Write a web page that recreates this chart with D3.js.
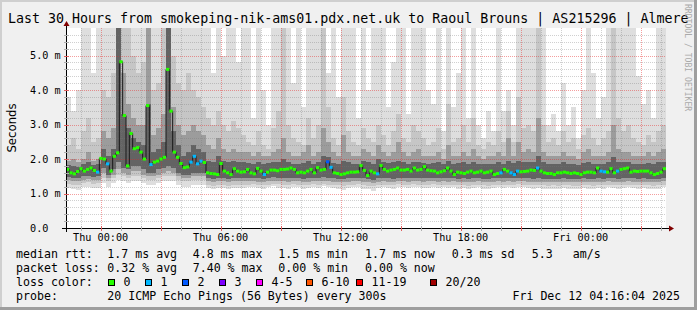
<!DOCTYPE html>
<html lang="en">
<head>
<meta charset="UTF-8">
<style>
    html, body { margin:0; padding:0; overflow:hidden; background:#f0f0f0; }
    svg { display:block; }
    text { font-family:"DejaVu Sans Mono", monospace; fill:#000; }
</style>
<script src="https://d3js.org/d3.v7.min.js"></script>
</head>
<body>
<svg width="697" height="310"></svg>
<script>
// ---- data ----
var titleText = "Last 30 Hours from smokeping-nik-ams01.pdx.net.uk to Raoul Brouns | AS215296 | Almere";
var startTime = new Date(2025, 11, 10, 22, 16, 4);
var endTime = new Date(2025, 11, 12, 4, 16, 4);

var yTickValues = [0, 1, 2, 3, 4, 5];
var yTickLabels = ["0.0", "1.0 m", "2.0 m", "3.0 m", "4.0 m", "5.0 m"];
var xTickTimes = [new Date(2025, 11, 11, 0), new Date(2025, 11, 11, 6), new Date(2025, 11, 11, 12),
                  new Date(2025, 11, 11, 18), new Date(2025, 11, 12, 0)];
var xTickLabels = ["Thu 00:00", "Thu 06:00", "Thu 12:00", "Thu 18:00", "Fri 00:00"];

// median rtt (ms), one value per 10 minutes
var medianRtt = [
    1.70,1.60,1.57,1.64,1.72,1.65,1.70,1.74,1.67,1.62,
    2.02,2.00,1.86,1.65,2.08,2.18,4.82,3.26,1.80,2.74,
    2.30,2.33,2.20,2.00,3.55,1.84,1.91,1.94,2.00,2.05,
    4.60,3.39,2.20,2.05,1.87,1.75,1.77,1.91,2.08,1.86,
    1.94,1.90,1.60,1.58,1.57,1.55,1.87,1.65,1.60,1.55,
    1.72,1.65,1.62,1.63,1.70,1.60,1.57,1.73,1.65,1.55,
    1.62,1.68,1.68,1.66,1.70,1.70,1.71,1.74,1.70,1.60,
    1.62,1.60,1.65,1.70,1.60,1.75,1.68,1.70,1.92,1.76,
    1.60,1.58,1.55,1.57,1.60,1.62,1.62,1.63,1.81,1.67,
    1.52,1.65,1.60,1.57,1.81,1.70,1.65,1.68,1.70,1.74,
    1.68,1.68,1.70,1.65,1.74,1.68,1.70,1.78,1.68,1.66,
    1.65,1.60,1.63,1.66,1.74,1.65,1.55,1.62,1.60,1.58,
    1.62,1.65,1.60,1.62,1.65,1.60,1.62,1.65,1.55,1.58,
    1.60,1.70,1.65,1.60,1.55,1.65,1.63,1.64,1.65,1.68,
    1.67,1.74,1.65,1.60,1.58,1.58,1.55,1.60,1.60,1.62,
    1.60,1.58,1.60,1.58,1.55,1.60,1.62,1.62,1.60,1.74,
    1.65,1.63,1.62,1.72,1.60,1.65,1.70,1.72,1.74,1.62,
    1.65,1.64,1.65,1.65,1.65,1.60,1.55,1.58,1.62,1.72
];
// lost pings (of 20) per median value
var medianLoss = [
    0,0,0,0,0,0,0,0,0,1, 0,0,1,0,0,0,0,0,0,0, 0,0,0,0,0,1,0,0,0,0,
    0,0,0,0,0,0,0,1,1,1, 1,0,0,0,0,0,0,0,0,0, 0,0,0,0,0,0,0,0,0,1,
    0,0,0,0,0,0,0,0,0,0, 0,0,0,0,0,0,0,0,2,1, 0,0,0,0,0,0,0,0,0,0,
    0,0,0,1,0,0,0,0,0,0, 0,0,0,0,0,0,0,0,0,0, 0,0,0,0,0,0,0,0,0,0,
    0,0,0,0,0,0,0,0,0,0, 1,0,0,1,1,1,0,0,0,0, 0,1,0,0,0,0,0,0,0,0,
    0,0,0,0,0,0,0,0,0,0, 1,1,0,0,0,1,0,0,0,0, 0,0,0,0,0,0,0,0,0,0
];

// smoke envelopes (ms), one value per 15 minutes; 1 = outer, 4 = inner
var smokeHi1 = [
    3.8,3.4,4.0,5.9,5.9,4.5,5.9,5.9,5.9,5.9,
    5.9,5.9,5.9,5.9,5.9,5.9,5.9,5.9,5.9,5.9,
    5.9,5.9,5.9,5.9,5.9,5.9,5.9,5.9,5.9,4.5,
    5.9,5.0,5.9,5.9,4.8,5.9,5.9,3.2,5.9,4.0,
    3.0,5.9,5.9,5.9,5.9,4.2,5.9,3.5,5.9,5.9,
    5.9,5.9,4.5,5.9,3.8,5.9,5.9,5.9,3.2,5.9,
    4.0,5.9,5.9,5.9,3.5,4.8,5.9,5.9,3.3,5.9,
    5.9,5.9,4.0,3.6,5.9,2.8,5.9,3.5,4.5,5.9,
    3.2,5.9,3.0,2.6,3.4,2.8,5.9,3.4,4.0,3.0,
    5.9,5.9,5.9,5.9,5.9,5.9,3.0,3.3,2.8,4.2,
    3.0,3.5,2.6,4.0,5.9,4.5,3.2,3.8,5.9,5.9,
    5.9,5.9,5.9,5.9,4.4,3.6,4.0,3.2,5.9,5.9
];
var smokeHi2 = [
    2.4,2.6,2.3,2.8,3.2,2.5,2.6,4.0,3.8,4.5,
    5.9,5.9,5.9,5.0,4.5,4.8,5.9,4.0,4.2,5.9,
    5.9,5.0,4.2,4.0,4.5,4.0,3.8,3.5,3.2,3.0,
    3.4,3.0,2.8,3.1,2.9,2.7,2.5,2.4,2.8,2.4,
    2.3,2.9,3.4,5.9,3.0,2.6,2.5,2.4,3.2,2.6,
    3.0,5.9,3.5,2.6,2.4,3.8,2.8,2.5,2.4,2.9,
    2.6,2.5,3.0,2.7,2.4,2.8,3.3,2.6,2.5,3.0,
    2.8,2.6,2.4,2.5,2.9,2.3,3.6,2.5,2.6,3.0,
    2.5,3.2,2.4,2.3,2.5,2.4,2.8,2.5,3.4,2.5,
    3.8,2.9,3.0,2.8,5.9,3.0,2.5,2.6,2.4,2.8,
    2.5,2.6,2.3,2.7,2.9,2.6,2.4,2.6,2.8,5.9,
    3.2,2.8,3.0,2.6,2.5,2.4,2.7,2.5,2.8,3.0
];
var smokeHi3 = [
    1.95,2.0,1.9,2.0,2.2,1.95,2.0,2.8,2.6,2.9,
    5.9,4.5,3.6,3.2,3.0,3.0,5.9,2.7,2.9,3.3,
    5.9,3.5,3.0,2.7,2.8,3.0,2.8,2.7,2.4,2.3,
    2.6,2.3,2.2,2.3,2.2,2.2,2.2,2.1,2.2,2.1,
    2.1,2.2,2.3,2.6,2.2,2.1,2.1,2.2,2.4,2.1,
    2.2,2.9,2.5,2.2,2.1,2.7,2.2,2.1,2.1,2.3,
    2.2,2.1,2.4,2.2,2.1,2.2,2.5,2.2,2.1,2.2,
    2.3,2.1,2.1,2.1,2.2,2.0,2.4,2.1,2.1,2.2,
    2.1,2.3,2.1,2.0,2.1,2.1,2.2,2.1,2.6,2.1,
    2.5,2.2,2.3,2.2,3.2,2.2,2.1,2.1,2.1,2.2,
    2.1,2.1,2.0,2.2,2.3,2.1,2.1,2.1,2.2,3.0,
    2.3,2.2,2.2,2.1,2.1,2.1,2.2,2.1,2.2,2.3
];
var smokeHi4 = [
    1.82,1.80,1.78,1.85,1.90,1.82,1.85,2.30,2.10,2.30,
    5.90,3.30,2.90,2.60,2.50,2.40,3.60,2.20,2.30,2.50,
    5.90,2.80,2.40,2.10,2.20,2.40,2.30,2.20,1.95,1.90,
    2.10,1.95,1.90,1.95,1.90,1.90,1.88,1.85,1.90,1.87,
    1.88,1.90,1.92,2.00,1.90,1.87,1.85,1.88,1.95,1.87,
    1.90,2.10,2.05,1.88,1.85,1.95,1.90,1.85,1.87,1.95,
    1.90,1.86,2.00,1.90,1.88,1.90,1.95,1.90,1.87,1.90,
    1.92,1.88,1.86,1.88,1.90,1.85,1.95,1.86,1.88,1.90,
    1.86,1.92,1.86,1.85,1.87,1.86,1.90,1.87,1.95,1.88,
    1.95,1.90,1.92,1.90,2.10,1.90,1.86,1.87,1.86,1.90,
    1.86,1.87,1.84,1.88,1.92,1.87,1.86,1.87,1.90,2.05,
    1.92,1.90,1.90,1.87,1.86,1.86,1.88,1.86,1.90,1.92
];
var smokeLo4 = [
    1.48,1.45,1.45,1.50,1.52,1.48,1.50,1.75,1.55,1.70,
    1.90,1.75,1.70,1.80,1.80,1.70,1.60,1.60,1.70,1.75,
    1.80,1.75,1.60,1.55,1.55,1.60,1.60,1.60,1.45,1.42,
    1.45,1.45,1.42,1.45,1.45,1.45,1.45,1.46,1.44,1.43,
    1.45,1.47,1.46,1.45,1.44,1.46,1.45,1.43,1.44,1.46,
    1.45,1.47,1.46,1.44,1.43,1.42,1.44,1.45,1.46,1.44,
    1.42,1.40,1.44,1.45,1.44,1.43,1.46,1.45,1.44,1.46,
    1.45,1.44,1.45,1.46,1.44,1.45,1.44,1.45,1.43,1.44,
    1.42,1.44,1.45,1.43,1.42,1.44,1.45,1.44,1.45,1.44,
    1.46,1.45,1.44,1.43,1.44,1.43,1.42,1.43,1.42,1.44,
    1.43,1.42,1.42,1.44,1.43,1.42,1.44,1.43,1.45,1.44,
    1.43,1.44,1.45,1.44,1.43,1.44,1.43,1.42,1.43,1.45
];
var smokeLo3 = [
    1.38,1.35,1.35,1.40,1.42,1.38,1.40,1.60,1.45,1.55,
    1.70,1.60,1.55,1.65,1.65,1.55,1.50,1.50,1.55,1.60,
    1.65,1.60,1.50,1.45,1.45,1.50,1.50,1.50,1.35,1.33,
    1.35,1.35,1.33,1.35,1.35,1.35,1.35,1.36,1.34,1.33,
    1.35,1.37,1.36,1.35,1.33,1.36,1.35,1.33,1.34,1.36,
    1.35,1.37,1.35,1.34,1.33,1.32,1.34,1.35,1.36,1.33,
    1.32,1.30,1.34,1.35,1.34,1.33,1.36,1.35,1.34,1.36,
    1.35,1.34,1.35,1.36,1.34,1.35,1.34,1.35,1.33,1.34,
    1.32,1.34,1.35,1.33,1.32,1.34,1.35,1.34,1.35,1.34,
    1.36,1.35,1.34,1.33,1.34,1.33,1.32,1.33,1.32,1.34,
    1.33,1.32,1.32,1.34,1.33,1.32,1.34,1.33,1.35,1.34,
    1.33,1.34,1.35,1.34,1.33,1.34,1.33,1.32,1.33,1.35
];
var smokeLo2 = [
    1.28,1.25,1.24,1.30,1.32,1.28,1.30,1.45,1.35,1.45,
    1.55,1.50,1.45,1.50,1.50,1.45,1.40,1.40,1.45,1.50,
    1.50,1.50,1.40,1.35,1.35,1.40,1.40,1.40,1.25,1.22,
    1.25,1.25,1.22,1.25,1.25,1.25,1.26,1.27,1.25,1.24,
    1.26,1.28,1.27,1.26,1.24,1.27,1.26,1.24,1.25,1.27,
    1.26,1.28,1.26,1.25,1.24,1.23,1.25,1.26,1.27,1.24,
    1.23,1.21,1.25,1.26,1.25,1.24,1.27,1.26,1.25,1.27,
    1.26,1.25,1.26,1.27,1.25,1.26,1.25,1.26,1.24,1.25,
    1.23,1.25,1.26,1.24,1.23,1.25,1.26,1.25,1.26,1.25,
    1.27,1.26,1.25,1.24,1.25,1.24,1.23,1.24,1.23,1.25,
    1.24,1.23,1.23,1.25,1.24,1.23,1.25,1.24,1.26,1.25,
    1.24,1.25,1.26,1.25,1.24,1.25,1.24,1.23,1.24,1.26
];
var smokeLo1 = [
    1.15,1.12,1.10,1.18,1.20,1.15,1.17,1.30,1.20,1.30,
    1.40,1.35,1.30,1.35,1.35,1.30,1.25,1.25,1.30,1.35,
    1.35,1.35,1.25,1.20,1.20,1.25,1.25,1.25,1.15,1.12,
    1.15,1.15,1.12,1.15,1.15,1.15,1.18,1.20,1.15,1.12,
    1.19,1.21,1.17,1.16,1.13,1.20,1.18,1.14,1.16,1.20,
    1.17,1.22,1.18,1.15,1.12,1.10,1.16,1.18,1.20,1.14,
    1.12,1.08,1.16,1.19,1.17,1.14,1.20,1.18,1.16,1.20,
    1.18,1.16,1.17,1.20,1.15,1.18,1.16,1.18,1.14,1.16,
    1.12,1.16,1.18,1.14,1.12,1.16,1.18,1.16,1.18,1.16,
    1.20,1.18,1.16,1.13,1.16,1.14,1.12,1.14,1.12,1.16,
    1.14,1.12,1.12,1.16,1.14,1.12,1.16,1.14,1.18,1.16,
    1.14,1.16,1.18,1.16,1.14,1.16,1.14,1.12,1.14,1.18
];

var lossLabels = ["0", "1", "2", "3", "4-5", "6-10", "11-19", "20/20"];
var lossColors = ["#26ff00", "#00b8ff", "#0059ff", "#7e00ff", "#ff00ff", "#ff5500", "#ff0000", "#a10000"];
var rttStats = ["1.7 ms avg", "4.8 ms max", "1.5 ms min", "1.7 ms now", "0.3 ms sd", "5.3", "am/s"];
var lossStats = ["0.32 % avg", "7.40 % max", "0.00 % min", "0.00 % now"];
var probeText = "20 ICMP Echo Pings (56 Bytes) every 300s";
var stampText = "Fri Dec 12 04:16:04 2025";

// ---- drawing ----
var W = 697, H = 310;
var svg = d3.select("svg");
var plot = {left: 66, right: 666, top: 28, bottom: 228};

var x = d3.scaleTime().domain([startTime, endTime]).range([plot.left, plot.right]);
var y = d3.scaleLinear().domain([0, 5.8]).range([plot.bottom, plot.top]);

function lossIndex(n) {
    if (n <= 3) return n;
    if (n <= 5) return 4;
    if (n <= 10) return 5;
    if (n <= 19) return 6;
    return 7;
}

// canvas with 3d border
svg.append("rect").attr("width", W).attr("height", H).attr("fill", "#f0f0f0");
svg.append("rect").attr("x", 0).attr("y", 0).attr("width", W).attr("height", 2).attr("fill", "#cfcfcf");
svg.append("rect").attr("x", 0).attr("y", 0).attr("width", 2).attr("height", H).attr("fill", "#cfcfcf");
svg.append("rect").attr("x", W - 3).attr("y", 0).attr("width", 3).attr("height", H).attr("fill", "#9e9e9e");
svg.append("rect").attr("x", 0).attr("y", H - 3).attr("width", W).attr("height", 3).attr("fill", "#9e9e9e");

svg.append("rect")
    .attr("x", plot.left).attr("y", plot.top)
    .attr("width", plot.right - plot.left).attr("height", plot.bottom - plot.top)
    .attr("fill", "#ffffff");

svg.append("defs").append("clipPath").attr("id", "plotclip")
    .append("rect")
    .attr("x", plot.left).attr("y", plot.top)
    .attr("width", plot.right - plot.left).attr("height", plot.bottom - plot.top);

// smoke
var smokeStep = 15 * 60 * 1000;
function smokeT(j) { return new Date(startTime.getTime() + j * smokeStep); }
var layers = [
    {hi: smokeHi1, lo: smokeLo1, color: "#dedede"},
    {hi: smokeHi2, lo: smokeLo2, color: "#c6c6c6"},
    {hi: smokeHi3, lo: smokeLo3, color: "#9c9c9c"},
    {hi: smokeHi4, lo: smokeLo4, color: "#636363"}
];
var smoke = svg.append("g").attr("clip-path", "url(#plotclip)");
layers.forEach(function (L) {
    smoke.append("g").selectAll("rect")
        .data(L.hi)
        .enter().append("rect")
        .attr("x", function (d, j) { return x(smokeT(j)); })
        .attr("width", function (d, j) { return x(smokeT(j + 1)) - x(smokeT(j)); })
        .attr("y", function (d) { return y(d); })
        .attr("height", function (d, j) { return y(L.lo[j]) - y(d); })
        .attr("fill", L.color)
        .attr("shape-rendering", "crispEdges");
});

// grid
var grid = svg.append("g").attr("shape-rendering", "crispEdges");
var minorY = d3.range(1, 29).filter(function (k) { return k % 5 !== 0; }).map(function (k) { return k * 0.2; });
var hours = d3.timeHour.range(startTime, endTime);
var minorX = hours.filter(function (t) { return t.getHours() % 3 !== 0; });
var majorX = hours.filter(function (t) { return t.getHours() % 3 === 0; });

grid.selectAll("line.minory").data(minorY).enter().append("line")
    .attr("x1", plot.left).attr("x2", plot.right)
    .attr("y1", function (d) { return Math.round(y(d)) + 0.5; })
    .attr("y2", function (d) { return Math.round(y(d)) + 0.5; })
    .attr("stroke", "rgba(120,120,120,0.35)").attr("stroke-dasharray", "1,1");
grid.selectAll("line.minorx").data(minorX).enter().append("line")
    .attr("y1", plot.top).attr("y2", plot.bottom)
    .attr("x1", function (d) { return Math.round(x(d)) + 0.5; })
    .attr("x2", function (d) { return Math.round(x(d)) + 0.5; })
    .attr("stroke", "rgba(120,120,120,0.35)").attr("stroke-dasharray", "1,1");
grid.selectAll("line.majory").data(yTickValues.slice(1)).enter().append("line")
    .attr("x1", plot.left).attr("x2", plot.right)
    .attr("y1", function (d) { return Math.round(y(d)) + 0.5; })
    .attr("y2", function (d) { return Math.round(y(d)) + 0.5; })
    .attr("stroke", "rgba(230,40,40,0.45)").attr("stroke-dasharray", "1,1");
grid.selectAll("line.majorx").data(majorX).enter().append("line")
    .attr("y1", plot.top).attr("y2", plot.bottom)
    .attr("x1", function (d) { return Math.round(x(d)) + 0.5; })
    .attr("x2", function (d) { return Math.round(x(d)) + 0.5; })
    .attr("stroke", "rgba(230,40,40,0.45)").attr("stroke-dasharray", "1,1");

// median line coloured by loss
var medStep = 10 * 60 * 1000;
function medT(i) { return new Date(startTime.getTime() + i * medStep); }
var med = svg.append("g").attr("clip-path", "url(#plotclip)");
var pts = medianRtt.map(function (v, i) { return [x(medT(i)), y(v)]; });
pts.push([x(medT(medianRtt.length)), y(medianRtt[medianRtt.length - 1])]);
med.append("path")
    .attr("d", d3.line().curve(d3.curveStepAfter)(pts))
    .attr("fill", "none").attr("stroke", "#1a1a1a").attr("stroke-width", 1);
med.selectAll("line.seg").data(medianRtt).enter().append("line")
    .attr("x1", function (d, i) { return x(medT(i)); })
    .attr("x2", function (d, i) { return x(medT(i + 1)); })
    .attr("y1", function (d) { return y(d); })
    .attr("y2", function (d) { return y(d); })
    .attr("stroke", function (d, i) { return lossColors[lossIndex(medianLoss[i])]; })
    .attr("stroke-width", 3);

// axes
var axes = svg.append("g").attr("shape-rendering", "crispEdges");
axes.append("line").attr("x1", plot.left - 4).attr("x2", plot.right + 3)
    .attr("y1", plot.bottom + 0.5).attr("y2", plot.bottom + 0.5).attr("stroke", "#000");
axes.append("line").attr("x1", plot.left + 0.5).attr("x2", plot.left + 0.5)
    .attr("y1", plot.bottom + 4).attr("y2", plot.top - 3).attr("stroke", "#000");
axes.selectAll("line.tx").data(minorX).enter().append("line")
    .attr("x1", function (d) { return Math.round(x(d)) + 0.5; })
    .attr("x2", function (d) { return Math.round(x(d)) + 0.5; })
    .attr("y1", plot.bottom - 2).attr("y2", plot.bottom + 3).attr("stroke", "#b0b0b0");
axes.selectAll("line.tX").data(majorX).enter().append("line")
    .attr("x1", function (d) { return Math.round(x(d)) + 0.5; })
    .attr("x2", function (d) { return Math.round(x(d)) + 0.5; })
    .attr("y1", plot.bottom - 2).attr("y2", plot.bottom + 3).attr("stroke", "#e06060");
axes.selectAll("line.ty").data(minorY).enter().append("line")
    .attr("y1", function (d) { return Math.round(y(d)) + 0.5; })
    .attr("y2", function (d) { return Math.round(y(d)) + 0.5; })
    .attr("x1", plot.left - 2).attr("x2", plot.left + 3).attr("stroke", "#b0b0b0");
axes.selectAll("line.tY").data(yTickValues.slice(1)).enter().append("line")
    .attr("y1", function (d) { return Math.round(y(d)) + 0.5; })
    .attr("y2", function (d) { return Math.round(y(d)) + 0.5; })
    .attr("x1", plot.left - 2).attr("x2", plot.left + 3).attr("stroke", "#e06060");
// arrows
svg.append("path")
    .attr("d", "M" + (plot.right + 3) + "," + (plot.bottom - 2.5) + " L" + (plot.right + 8) + "," + (plot.bottom + 0.5) +
        " L" + (plot.right + 3) + "," + (plot.bottom + 3.5) + "Z")
    .attr("fill", "#800000");
svg.append("path")
    .attr("d", "M" + (plot.left - 2.5) + "," + (plot.top - 2) + " L" + (plot.left + 0.5) + "," + (plot.top - 7) +
        " L" + (plot.left + 3.5) + "," + (plot.top - 2) + "Z")
    .attr("fill", "#800000");

// tick labels
svg.append("g").selectAll("text").data(yTickValues).enter().append("text")
    .attr("x", 30)
    .attr("y", function (d) { return y(d) + 3.6; })
    .style("font-size", "10.2px")
    .text(function (d, i) { return yTickLabels[i]; });
svg.append("g").selectAll("text").data(xTickTimes).enter().append("text")
    .attr("x", function (d) { return x(d); })
    .attr("y", 241)
    .attr("text-anchor", "middle")
    .style("font-size", "10.2px")
    .text(function (d, i) { return xTickLabels[i]; });

// title, unit, watermark
svg.append("text").attr("x", 8).attr("y", 22.5).style("font-size", "13.3px").text(titleText);
svg.append("text")
    .attr("transform", "translate(15.5,128) rotate(-90)")
    .attr("text-anchor", "middle")
    .style("font-family", "'DejaVu Sans', sans-serif")
    .style("font-size", "11.7px")
    .text("Seconds");
svg.append("text")
    .attr("transform", "translate(685,4) rotate(90)")
    .style("font-size", "8.1px")
    .style("fill", "#aaaaaa")
    .text("RRDTOOL / TOBI OETIKER");

// legend
var leg = svg.append("g").style("font-size", "11.6px");
var rttX = [107.3, 192.7, 278.3, 365, 451.7, 531.7, 572.7];
leg.append("text").attr("x", 16).attr("y", 258).text("median rtt:");
leg.selectAll("text.rtt").data(rttStats).enter().append("text")
    .attr("x", function (d, i) { return rttX[i]; }).attr("y", 258).text(function (d) { return d; });
leg.append("text").attr("x", 16).attr("y", 272).text("packet loss:");
leg.selectAll("text.loss").data(lossStats).enter().append("text")
    .attr("x", function (d, i) { return rttX[i]; }).attr("y", 272).text(function (d) { return d; });
leg.append("text").attr("x", 16).attr("y", 286).text("loss color:");
var boxX = [108.5, 145.5, 182.5, 219.5, 256.5, 306.5, 356.5, 430.5];
leg.selectAll("rect.sw").data(lossLabels).enter().append("rect")
    .attr("x", function (d, i) { return boxX[i]; }).attr("y", 279.5)
    .attr("width", 6).attr("height", 6)
    .attr("fill", function (d, i) { return lossColors[i]; })
    .attr("stroke", "#000").attr("stroke-width", 1);
leg.selectAll("text.sw").data(lossLabels).enter().append("text")
    .attr("x", function (d, i) { return boxX[i] + 15; }).attr("y", 286)
    .text(function (d) { return d; });
leg.append("text").attr("x", 16).attr("y", 300).text("probe:");
leg.append("text").attr("x", 107.3).attr("y", 300).text(probeText);
leg.append("text").attr("x", 680).attr("y", 300).attr("text-anchor", "end").text(stampText);
</script>
</body>
</html>
